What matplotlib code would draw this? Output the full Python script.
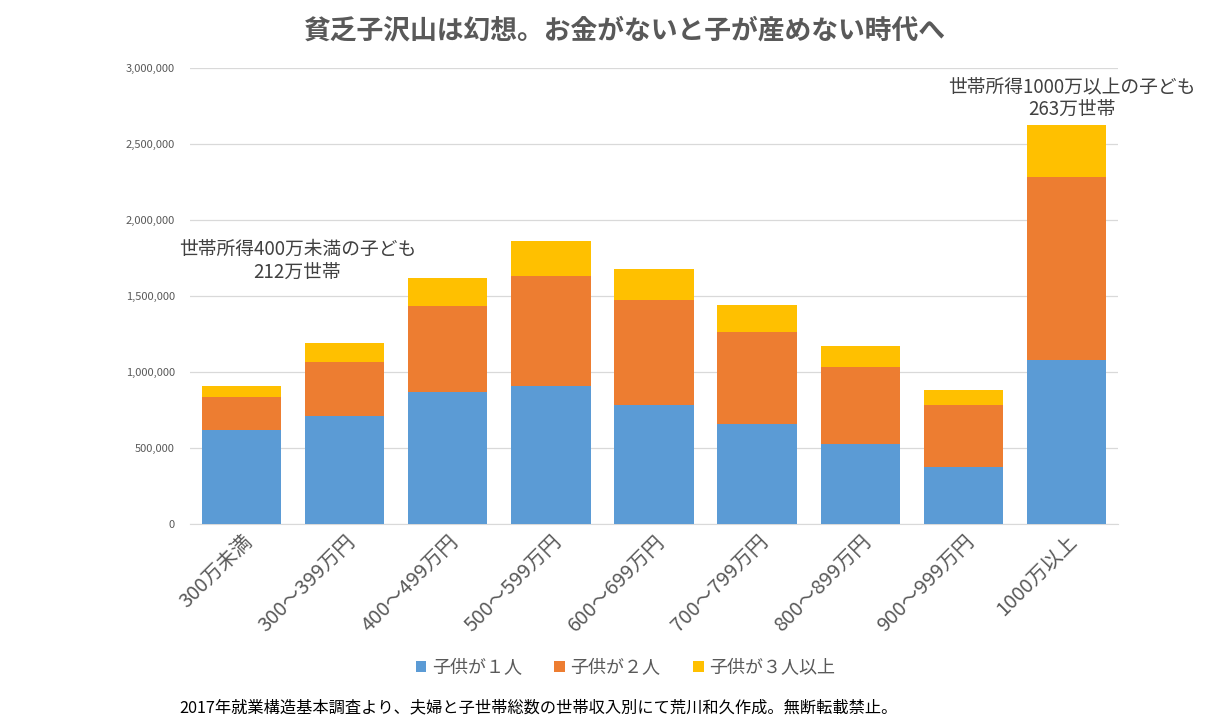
import numpy as np
import matplotlib.pyplot as plt
from matplotlib.ticker import FuncFormatter

plt.rcParams['font.family'] = ['Noto Sans CJK JP', 'DejaVu Sans']

# Data (households)
categories = ['300万未満', '300～399万円', '400～499万円', '500～599万円', '600～699万円',
              '700～799万円', '800～899万円', '900～999万円', '1000万以上']
one_child = [618000, 712000, 866000, 908000, 783000, 660000, 526000, 373000, 1079000]
two_children = [217000, 356000, 568000, 726000, 691000, 603000, 509000, 410000, 1206000]
three_plus = [75000, 123000, 184000, 230000, 204000, 180000, 138000, 99000, 340000]
series_names = ['子供が１人', '子供が２人', '子供が３人以上']
colors = ['#5B9BD5', '#ED7D31', '#FFC000']

fig = plt.figure(figsize=(12.05, 7.18), dpi=100)
ax = fig.add_axes([0.1577, 0.2702, 0.7701, 0.6351])

x = np.arange(len(categories))
bottom = np.zeros(len(categories))
for vals, name, col in zip([one_child, two_children, three_plus], series_names, colors):
    ax.bar(x, vals, width=0.77, bottom=bottom, color=col, label=name, zorder=3)
    bottom += np.array(vals)

ax.set_xlim(-0.5, len(categories) - 0.5)
ax.set_ylim(0, 3000000)
ax.set_yticks(np.arange(0, 3000001, 500000))
ax.yaxis.set_major_formatter(FuncFormatter(lambda v, p: f'{int(v):,}'))
ax.grid(axis='y', color='#d9d9d9', linewidth=0.9, zorder=0)
for s in ['top', 'right', 'left']:
    ax.spines[s].set_visible(False)
ax.spines['bottom'].set_color('#d9d9d9')
ax.tick_params(axis='y', length=0, labelsize=8, labelcolor='#595959', pad=11)
ax.tick_params(axis='x', length=0, labelsize=14.5, labelcolor='#595959', pad=5)
ax.set_xticks(x)
ax.set_xticklabels(categories, rotation=45, ha='right', rotation_mode='anchor')

fig.text(0.519, 0.958, '貧乏子沢山は幻想。お金がないと子が産めない時代へ', ha='center', va='center',
         fontsize=19.3, fontweight='bold', color='#595959')

# annotations
ax.text(0.54, 1730000, '世帯所得400万未満の子ども\n212万世帯', ha='center', va='center',
        fontsize=13.5, color='#404040', linespacing=1.1)
ax.text(8.05, 2800000, '世帯所得1000万以上の子ども\n263万世帯', ha='center', va='center',
        fontsize=13.5, color='#404040', linespacing=1.1)

fig.legend(loc='center', bbox_to_anchor=(0.519, 0.07), ncol=3, frameon=False,
           fontsize=13, handlelength=0.6, handleheight=0.6, columnspacing=1.8,
           handletextpad=0.3, labelcolor='#595959')

fig.text(0.149, 0.014, '2017年就業構造基本調査より、夫婦と子世帯総数の世帯収入別にて荒川和久作成。無断転載禁止。',
         ha='left', va='center', fontsize=11.7, color='#000000')

fig.savefig('out.png', dpi=100)
